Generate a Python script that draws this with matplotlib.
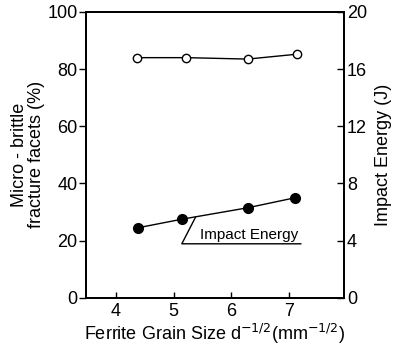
import matplotlib
matplotlib.use("Agg")
import matplotlib.pyplot as plt

# grain size d^-1/2 (mm^-1/2)
grain_open = [4.36, 5.22, 6.28, 7.13]
brittle_pct = [84.0, 84.0, 83.5, 85.2]

grain_filled = [4.38, 5.14, 6.28, 7.10]
impact_J = [4.9, 5.5, 6.3, 7.0]

left_ticks = [0, 20, 40, 60, 80, 100]
right_ticks = [0, 4, 8, 12, 16, 20]
x_ticks = [4, 5, 6, 7]

plt.rcParams['font.family'] = ['Liberation Sans', 'DejaVu Sans']
plt.rcParams['font.size'] = 13

fig = plt.figure(figsize=(3.96, 3.5), dpi=100)
ax = fig.add_axes([0.217, 0.149, 0.652, 0.817])
ax2 = ax.twinx()

ax.plot(grain_open, brittle_pct, 'k-', lw=1, marker='o', ms=6,
        mfc='white', mec='black', mew=1)
ax2.plot(grain_filled, impact_J, 'k-', lw=1, marker='o', ms=7,
         mfc='black', mec='black')

ax.set_xlim(3.48, 7.95)
ax.set_ylim(0, 100)
ax2.set_ylim(0, 20)

ax.set_xticks(x_ticks)
ax.set_yticks(left_ticks)
ax2.set_yticks(right_ticks)

ax.tick_params(axis='x', direction='in', length=4, width=1, pad=4)
ax.tick_params(axis='y', direction='out', length=5, width=1, pad=1)
ax2.tick_params(axis='y', direction='in', length=5, width=1, pad=2)

for a in (ax, ax2):
    for s in a.spines.values():
        s.set_linewidth(1.3)

ax.set_ylabel("Micro - brittle\nfracture facets (%)", linespacing=1.0,
              labelpad=2)
ax2.set_ylabel("Impact Energy (J)", labelpad=6)
ax.set_xlabel(r"Ferrite Grain Size d$^{-1/2}$(mm$^{-1/2}$)", labelpad=1)

# pointer to the impact energy curve
ax2.plot([5.38, 5.14, 7.2], [5.66, 3.78, 3.78], 'k-', lw=1)
ax2.text(5.45, 4.1, "Impact Energy", fontsize=11)

fig.savefig("out.png", dpi=100)
